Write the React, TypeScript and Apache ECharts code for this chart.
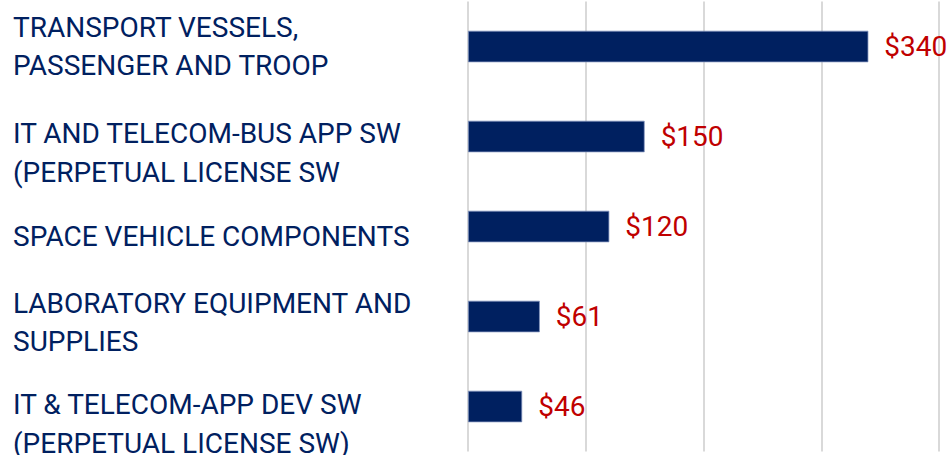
import React, { useEffect, useRef } from "react";
import * as echarts from "echarts";

const categories = [
  "TRANSPORT VESSELS,\nPASSENGER AND TROOP",
  "IT AND TELECOM-BUS APP SW\n(PERPETUAL LICENSE SW",
  "SPACE VEHICLE COMPONENTS",
  "LABORATORY EQUIPMENT AND\nSUPPLIES",
  "IT & TELECOM-APP DEV SW\n(PERPETUAL LICENSE SW)",
];
const values = [340, 150, 120, 61, 46];
const axisMin = 0;
const axisMax = 400;
const axisInterval = 100;

// layout: vertical shift (px) of each category text box relative to its bar
const labelShift = [0, 16.5, 10, 6, 17.5];

export default function App() {
  const ref = useRef<HTMLDivElement>(null);
  useEffect(() => {
    document.body.style.margin = "0";
    if (!ref.current) return;
    const chart = echarts.init(ref.current, null, { renderer: "svg" });
    const rich: any = {
      t: { color: "#002060", fontSize: 28, lineHeight: 38.5, fontFamily: "Roboto" },
    };
    labelShift.forEach((s, i) => {
      rich["g" + i] = { fontSize: 1, lineHeight: s * 2 };
    });
    chart.setOption({
      animation: false,
      backgroundColor: "#ffffff",
      grid: {
        left: 468,
        right: 12,
        top: 1.5,
        bottom: 3.5,
        containLabel: false,
        outerBoundsMode: "none",
      },
      xAxis: {
        type: "value",
        min: axisMin,
        max: axisMax,
        interval: axisInterval,
        axisLabel: { show: false },
        axisLine: { show: false },
        axisTick: { show: false },
        splitLine: { show: true, lineStyle: { color: "#d9d9d9", width: 2 } },
      },
      yAxis: {
        type: "category",
        inverse: true,
        data: categories,
        axisLine: { show: false },
        axisTick: { show: false },
        axisLabel: {
          interval: 0,
          hideOverlap: false,
          showMinLabel: true,
          showMaxLabel: true,
          align: "left",
          margin: 455,
          color: "#002060",
          fontSize: 28,
          lineHeight: 38.5,
          fontFamily: "Roboto",
          formatter: (v: string, i: number) => {
            const lines = v.split("\n").map((l) => "{t|" + l + "}").join("\n");
            return labelShift[i] > 0 ? "{g" + i + "| }\n" + lines : lines;
          },
          rich,
        },
      },
      series: [
        {
          type: "bar",
          data: values,
          barWidth: "35%",
          itemStyle: { color: "#002060", borderColor: "#8093bd", borderWidth: 0.75 },
          label: {
            show: true,
            position: "right",
            distance: 16,
            formatter: (p: any) => "$" + p.value,
            color: "#C00000",
            fontSize: 28,
            fontFamily: "Roboto",
          },
        },
      ],
    });
    return () => chart.dispose();
  }, []);
  return <div ref={ref} style={{ width: 951, height: 455 }} />;
}
